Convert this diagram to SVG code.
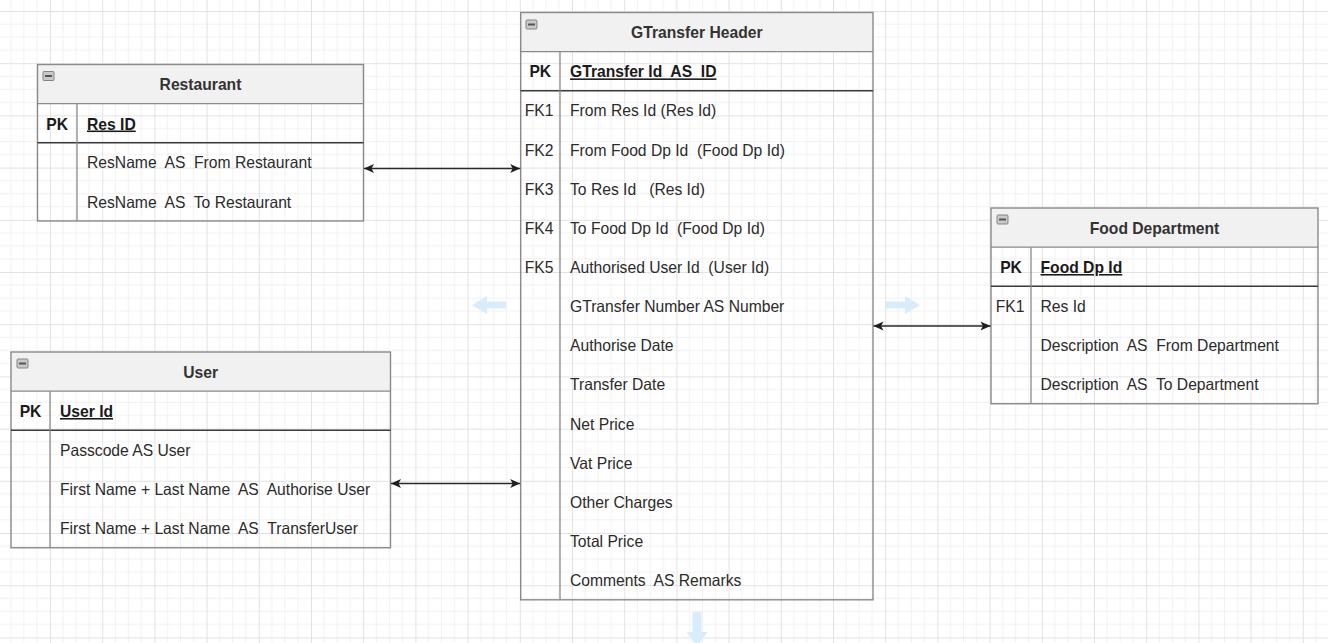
<svg xmlns="http://www.w3.org/2000/svg" width="1328" height="643" viewBox="0 0 1328 643">
<defs>
<pattern id="grid" patternUnits="userSpaceOnUse" x="50" y="11" width="52.2" height="52.2">
<path d="M13.05 0V52.2M26.1 0V52.2M39.15 0V52.2M0 13.05H52.2M0 26.1H52.2M0 39.15H52.2" stroke="#f1f1f1" stroke-width="1" fill="none"/>
<path d="M0.5 0V52.2M0 0.5H52.2" stroke="#e2e2e2" stroke-width="1" fill="none"/>
</pattern>
<marker id="arr" markerUnits="userSpaceOnUse" markerWidth="10" markerHeight="10" viewBox="0 0 10 10" refX="10" refY="5" orient="auto-start-reverse">
<path d="M0,0.5 L10,5 L0,9.5 L2.5,5 z" fill="#1e1e1e"/>
</marker>
</defs>
<style>
text { font-family: "Liberation Sans", Arial, sans-serif; font-size: 15.66px; fill: #2b2b2b; white-space: pre; }
.ttl { font-weight: bold; text-anchor: middle; fill: #333; }
.pk { font-weight: bold; text-anchor: middle; fill: #1a1a1a; }
.fk { text-anchor: middle; }
.pkf { font-weight: bold; text-decoration: underline; fill: #1a1a1a; }
.head { fill: #f1f1f1; stroke: none; }
.frame { fill: none; stroke: #8a8a8a; stroke-width: 1.4; }
.sep { stroke: #8a8a8a; stroke-width: 1.3; }
.pkline { stroke: #3a3a3a; stroke-width: 1.6; }
.icon { fill: #c9c9c9; stroke: #858585; stroke-width: 1; }
.iconbar { stroke: #555; stroke-width: 2; }
.conn { stroke: #2a2a2a; stroke-width: 1.4; fill: none; marker-start: url(#arr); marker-end: url(#arr); }
.hover { fill: #d8edfb; }
</style>
<rect x="0" y="0" width="1328" height="643" fill="#ffffff"/>
<rect x="0" y="0" width="1328" height="643" fill="url(#grid)"/>

<g id="restaurant">
<rect class="head" x="37.5" y="64.5" width="326" height="39.2"/>
<rect class="frame" x="37.5" y="64.5" width="326" height="156.5"/>
<line class="sep" x1="37.5" y1="103.7" x2="363.5" y2="103.7"/>
<line class="pkline" x1="37.5" y1="142.8" x2="363.5" y2="142.8"/>
<line class="sep" x1="77" y1="103.7" x2="77" y2="221"/>
<rect class="icon" x="43" y="71.5" width="11" height="9" rx="1"/>
<line class="iconbar" x1="45" y1="76" x2="52" y2="76"/>
<text class="ttl" x="200.5" y="90.2">Restaurant</text>
<text class="pk" x="57.2" y="129.5">PK</text>
<text class="pkf" x="87" y="129.5">Res ID</text>
<text x="87" y="168.4">ResName  AS  From Restaurant</text>
<text x="87" y="207.5">ResName  AS  To Restaurant</text>
</g>

<g id="gtransfer">
<rect class="head" x="520.7" y="12.5" width="352.3" height="39.2"/>
<rect class="frame" x="520.7" y="12.5" width="352.3" height="587.3"/>
<line class="sep" x1="520.7" y1="51.7" x2="873" y2="51.7"/>
<line class="pkline" x1="520.7" y1="90.8" x2="873" y2="90.8"/>
<line class="sep" x1="560" y1="51.7" x2="560" y2="599.8"/>
<rect class="icon" x="526" y="20" width="11" height="9" rx="1"/>
<line class="iconbar" x1="528" y1="24.5" x2="535" y2="24.5"/>
<text class="ttl" x="696.8" y="38.1">GTransfer Header</text>
<text class="pk" x="540.3" y="77.4">PK</text>
<text class="pkf" x="570" y="77.4">GTransfer Id  AS  ID</text>
<text class="fk" x="539" y="116.4">FK1</text>
<text x="570" y="116.4">From Res Id (Res Id)</text>
<text class="fk" x="539" y="155.5">FK2</text>
<text x="570" y="155.5">From Food Dp Id  (Food Dp Id)</text>
<text class="fk" x="539" y="194.7">FK3</text>
<text x="570" y="194.7">To Res Id   (Res Id)</text>
<text class="fk" x="539" y="233.8">FK4</text>
<text x="570" y="233.8">To Food Dp Id  (Food Dp Id)</text>
<text class="fk" x="539" y="273">FK5</text>
<text x="570" y="273">Authorised User Id  (User Id)</text>
<text x="570" y="312.1">GTransfer Number AS Number</text>
<text x="570" y="351.3">Authorise Date</text>
<text x="570" y="390.4">Transfer Date</text>
<text x="570" y="429.6">Net Price</text>
<text x="570" y="468.7">Vat Price</text>
<text x="570" y="507.9">Other Charges</text>
<text x="570" y="547">Total Price</text>
<text x="570" y="586.2">Comments  AS Remarks</text>
</g>

<g id="food-department">
<rect class="head" x="991" y="208" width="327" height="39.2"/>
<rect class="frame" x="991" y="208" width="327" height="195.75"/>
<line class="sep" x1="991" y1="247.2" x2="1318" y2="247.2"/>
<line class="pkline" x1="991" y1="286.3" x2="1318" y2="286.3"/>
<line class="sep" x1="1031" y1="247.2" x2="1031" y2="403.75"/>
<rect class="icon" x="997" y="215" width="11" height="9" rx="1"/>
<line class="iconbar" x1="999" y1="219.5" x2="1006" y2="219.5"/>
<text class="ttl" x="1154.5" y="233.6">Food Department</text>
<text class="pk" x="1011" y="273">PK</text>
<text class="pkf" x="1040.5" y="273">Food Dp Id</text>
<text class="fk" x="1010" y="311.9">FK1</text>
<text x="1040.5" y="311.9">Res Id</text>
<text x="1040.5" y="351">Description  AS  From Department</text>
<text x="1040.5" y="390.2">Description  AS  To Department</text>
</g>

<g id="user">
<rect class="head" x="11" y="352" width="379.5" height="39.2"/>
<rect class="frame" x="11" y="352" width="379.5" height="195.75"/>
<line class="sep" x1="11" y1="391.2" x2="390.5" y2="391.2"/>
<line class="pkline" x1="11" y1="430.3" x2="390.5" y2="430.3"/>
<line class="sep" x1="50" y1="391.2" x2="50" y2="547.75"/>
<rect class="icon" x="17" y="359" width="11" height="9" rx="1"/>
<line class="iconbar" x1="19" y1="363.5" x2="26" y2="363.5"/>
<text class="ttl" x="200.7" y="377.6">User</text>
<text class="pk" x="30.5" y="417">PK</text>
<text class="pkf" x="60" y="417">User Id</text>
<text x="60" y="455.9">Passcode AS User</text>
<text x="60" y="495">First Name + Last Name  AS  Authorise User</text>
<text x="60" y="534.2">First Name + Last Name  AS  TransferUser</text>
</g>

<g id="connectors">
<line class="conn" x1="364" y1="168.5" x2="520.2" y2="168.5"/>
<line class="conn" x1="391" y1="483.5" x2="520.2" y2="483.5"/>
<line class="conn" x1="873.5" y1="326" x2="990.5" y2="326"/>
</g>

<g id="hover-arrows">
<polygon class="hover" points="472,305 487,296 487,301.5 506,301.5 506,308.5 487,308.5 487,314"/>
<polygon class="hover" points="920,305 905,296 905,301.5 885,301.5 885,308.5 905,308.5 905,314"/>
<polygon class="hover" points="697,647 686.5,632 692.5,632 692.5,612 701.5,612 701.5,632 707.5,632"/>
</g>
</svg>
